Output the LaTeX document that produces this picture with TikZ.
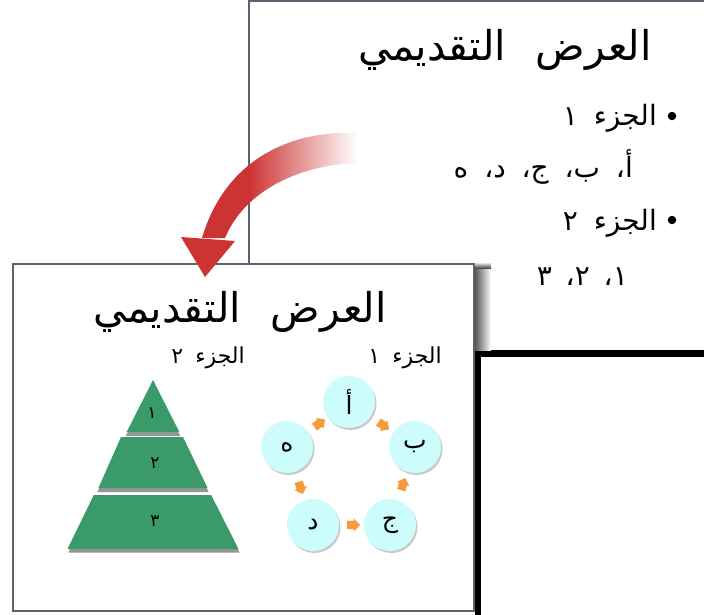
\documentclass[tikz,border=0pt]{standalone}
\usepackage{fontspec}
\usetikzlibrary{shapes.arrows,shadows,calc}
\newfontfamily\arabicfont[Script=Arabic]{DejaVu Sans}
\TeXXeTstate=1
\definecolor{slideborder}{RGB}{92,96,112}
\definecolor{pyrgreen}{RGB}{58,154,106}
\definecolor{pyrgap}{RGB}{150,150,150}
\definecolor{cyclefill}{RGB}{204,252,252}
\definecolor{cycleorange}{RGB}{247,154,58}
\definecolor{arrowred}{RGB}{204,51,51}
\pgfdeclarehorizontalshading{redfade}{100bp}{color(0bp)=(arrowred); color(40bp)=(arrowred); color(75bp)=(white); color(100bp)=(white)}
\newcommand{\artext}[1]{\beginR #1\endR}
\begin{document}
\begin{tikzpicture}[x=1pt,y=-1pt,
  slide/.style={draw=slideborder, fill=white},
  titletxt/.style={font=\arabicfont\fontsize{41}{48}\selectfont, inner sep=0pt, anchor=base east},
  bodytxt/.style={font=\arabicfont\fontsize{28}{32}\selectfont, inner sep=0pt, anchor=base east},
  subtxt/.style={font=\arabicfont\fontsize{22}{26}\selectfont, inner sep=0pt, anchor=base east},
  bulletdot/.style={circle, fill=black, inner sep=0pt, minimum size=8.5pt},
  tier/.style={fill=pyrgreen},
  tiershadow/.style={fill=pyrgap},
  tierlabel/.style={font=\arabicfont\fontsize{17}{19}\selectfont, inner sep=0pt},
  cyclenode/.style={circle, fill=cyclefill, minimum size=52pt, inner sep=0pt,
     font=\arabicfont\fontsize{25}{29}\selectfont,
     drop shadow={shadow xshift=1.5pt, shadow yshift=-2pt, opacity=0.35, fill=black!60}},
  cyclearrow/.style={single arrow, fill=cycleorange, minimum width=13pt, minimum height=13pt,
     single arrow head extend=2pt, inner sep=3.5pt}]
\useasboundingbox (0,0) rectangle (704,614);
\clip (0,0) rectangle (704,614);
\fill[white] (0,0) rectangle (704,614);

% back slide
\draw[slide, line width=1.6pt] (249,1) rectangle (712,352);
\node[titletxt] (backtitle) at (652,60) {\artext{العرض\hspace{30pt}التقديمي}};
\node[bulletdot] (bul1) at (672,116) {};
\node[bodytxt] (part1) at (657,125) {\artext{الجزء\hspace{16pt}١}};
\node[bodytxt] (letters) at (633,177) {\artext{أ،\hspace{7pt} ب،\hspace{7pt} ج،\hspace{7pt} د،\hspace{7pt} ه}};
\node[bulletdot] (bul2) at (672,220) {};
\node[bodytxt] (part2) at (657,230) {\artext{الجزء\hspace{16pt}٢}};
\node[bodytxt] (numbers) at (628,285) {\artext{١،\hspace{5pt} ٢،\hspace{5pt} ٣}};

% black frame corner
\draw[line width=6.5pt, line join=miter] (478,620) -- (478,353.5) -- (712,353.5);

% front slide shadow
\shade[left color=black!70, right color=white] (474,268) rectangle (491,350);
\shade[top color=white, bottom color=black!70] (474,262) rectangle (491,268);

% front slide
\draw[slide, line width=2pt] (12.5,264) rectangle (474,610.5);
\node[titletxt] (fronttitle) at (387,322) {\artext{العرض\hspace{30pt}التقديمي}};
\node[subtxt] (sub2) at (245,363) {\artext{الجزء\hspace{12pt}٢}};
\node[subtxt] (sub1) at (442,363) {\artext{الجزء\hspace{12pt}١}};

% pyramid
\coordinate (apex) at (153,380);
\fill[tiershadow] (153,384) -- (180.3,436) -- (125.7,436) -- cycle;
\fill[tier] (apex) -- (179.3,432) -- (126.7,432) -- cycle;
\fill[tiershadow] (122,441) -- (184,441) -- (208.6,492) -- (97.4,492) -- cycle;
\fill[tier] (121,437) -- (183,437) -- (207.6,488) -- (98.4,488) -- cycle;
\fill[tiershadow] (93.8,499) -- (212.2,499) -- (239.5,552.5) -- (68.5,552.5) -- cycle;
\fill[tier] (93.8,495) -- (211.2,495) -- (238.5,549) -- (67.5,549) -- cycle;
\node[tierlabel] (t1) at (152,413) {\artext{١}};
\node[tierlabel] (t2) at (155,463) {\artext{٢}};
\node[tierlabel] (t3) at (155,521) {\artext{٣}};

% cycle
\node[cyclenode] (ca) at (349,402) {\artext{أ}};
\node[cyclenode] (cb) at (415,447) {\artext{ب}};
\node[cyclenode] (cc) at (390,525) {\artext{ج}};
\node[cyclenode] (cd) at (313,525) {\artext{د}};
\node[cyclenode] (ce) at (287,447) {\artext{ه}};
\path (ca) -- (cb) node[midway, sloped, cyclearrow] {};
\path (cb) -- (cc) node[midway, sloped, cyclearrow] {};
\path (cc) -- (cd) node[midway, sloped, cyclearrow] {};
\path (cd) -- (ce) node[midway, sloped, cyclearrow] {};
\path (ce) -- (ca) node[midway, sloped, cyclearrow] {};

% red curved arrow
\coordinate (arrowtip) at (205,277);
\shade[shading=redfade] (357,133) .. controls (290,130) and (225,160) .. (202,238)
   -- (225,238) .. controls (245,190) and (300,165) .. (357,163) -- cycle;
\fill[arrowred] (181,237) -- (235,241) -- (arrowtip) -- cycle;
\end{tikzpicture}
\end{document}
